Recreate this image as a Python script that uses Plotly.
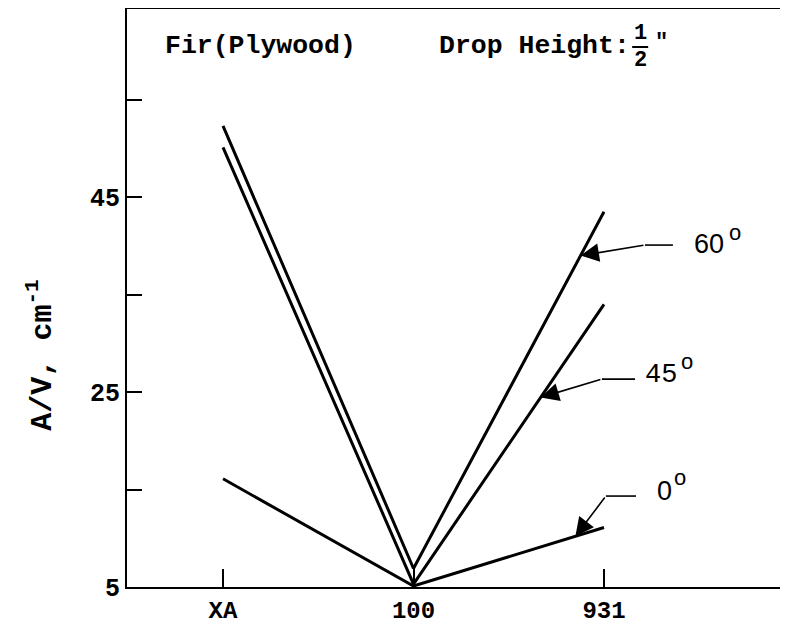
import plotly.graph_objects as go

# ---- data ----
categories = ["XA", "100", "931"]
angle_labels = ["60", "45", "0"]
av_60 = [52.3, 6.9, 43.5]
av_45 = [50.1, 5.3, 34.0]
av_0 = [16.1, 5.1, 11.1]
y_tick_vals = [5, 15, 25, 35, 45, 55]
y_tick_text = ["5", "", "25", "", "45", ""]

xs = list(range(len(categories)))
series = [av_60, av_45, av_0]

TYPE = "Liberation Mono"
SANS = "Liberation Sans"

fig = go.Figure()
for vals in series:
    fig.add_trace(go.Scatter(x=xs, y=vals, mode="lines",
                             line=dict(color="black", width=3),
                             showlegend=False, hoverinfo="skip"))

# arrow callouts: tip on the 100 -> 931 segment at fraction t
callouts = [
    # (series, t, bend_x, bend_y, end_x, label_x, label_y, o_x, o_y, font)
    (av_60, 0.877, 2.215, 40.08, 2.362, 2.462, 40.2, 2.688, 41.4, SANS),
    (av_45, 0.667, 1.989, 26.33, 2.163, 2.205, 26.7, 2.436, 28.1, TYPE),
    (av_0, 0.85, 2.010, 14.33, 2.168, 2.268, 14.85, 2.399, 16.2, SANS),
]
for (vals, t, bx, by, ex, lx, ly, ox, oy, fnt), lab in zip(callouts, angle_labels):
    tx = 1 + t
    ty = vals[1] + t * (vals[2] - vals[1])
    fig.add_annotation(x=tx, y=ty, ax=bx, ay=by, axref="x", ayref="y",
                       xref="x", yref="y", text="", showarrow=True,
                       arrowhead=2, arrowsize=2.3, arrowwidth=1.6,
                       arrowcolor="black")
    fig.add_shape(type="line", x0=bx, y0=by, x1=ex, y1=by, xref="x", yref="y",
                  line=dict(color="black", width=1.6))
    fig.add_annotation(x=lx, y=ly, xref="x", yref="y", text=lab,
                       showarrow=False, xanchor="left", yanchor="middle",
                       font=dict(family=fnt, size=27, color="black"))
    fig.add_annotation(x=ox, y=oy, xref="x", yref="y", text="o",
                       showarrow=False, xanchor="center", yanchor="middle",
                       font=dict(family=SANS, size=22, color="black"))

# header texts
hdr_font = dict(family=TYPE, size=26.5, color="black", weight="bold")
fig.add_annotation(x=-0.315, y=60.5, xref="x", yref="y", text="Fir(Plywood)",
                   showarrow=False, xanchor="left", yanchor="middle", font=hdr_font)
fig.add_annotation(x=1.123, y=60.5, xref="x", yref="y", text="Drop Height:",
                   showarrow=False, xanchor="left", yanchor="middle", font=hdr_font)
fig.add_annotation(x=2.19, y=61.8, xref="x", yref="y", text="1",
                   showarrow=False, xanchor="center", yanchor="middle",
                   font=dict(family=TYPE, size=22, color="black", weight="bold"))
fig.add_annotation(x=2.19, y=59.0, xref="x", yref="y", text="2",
                   showarrow=False, xanchor="center", yanchor="middle",
                   font=dict(family=TYPE, size=22, color="black", weight="bold"))
fig.add_shape(type="line", x0=2.148, x1=2.232, y0=60.4, y1=60.4, xref="x", yref="y",
              line=dict(color="black", width=2))
fig.add_annotation(x=2.30, y=60.9, xref="x", yref="y", text='"',
                   showarrow=False, xanchor="center", yanchor="middle",
                   font=dict(family=TYPE, size=22, color="black", weight="bold"))

# y title
fig.add_annotation(x=-0.131, y=0.401, xref="paper", yref="paper",
                   text="A/V, cm<sup>-1</sup>", textangle=-90, showarrow=False,
                   xanchor="center", yanchor="middle",
                   font=dict(family=TYPE, size=30, color="black", weight="bold"))

tick_font = dict(family=TYPE, size=25, color="black", weight="bold")
fig.update_xaxes(range=[-0.504, 2.966], tickvals=xs, ticktext=categories,
                 showline=True, linecolor="black", linewidth=2, mirror=True,
                 ticks="inside", ticklen=18, tickwidth=2, tickcolor="black",
                 showgrid=False, zeroline=False,
                 tickfont=dict(family=TYPE, size=24, color="black", weight="bold"),
                 automargin=False)
fig.update_yaxes(range=[5, 64.3], tickvals=y_tick_vals, ticktext=y_tick_text,
                 showline=True, linecolor="black", linewidth=2, mirror=False,
                 ticks="inside", ticklen=15, tickwidth=2, tickcolor="black",
                 showgrid=False, zeroline=False, tickfont=tick_font,
                 automargin=False)

fig.update_layout(width=780, height=620, plot_bgcolor="white", paper_bgcolor="white",
                  margin=dict(l=119, r=0, t=1, b=41), showlegend=False)

fig.write_html("out.html")
